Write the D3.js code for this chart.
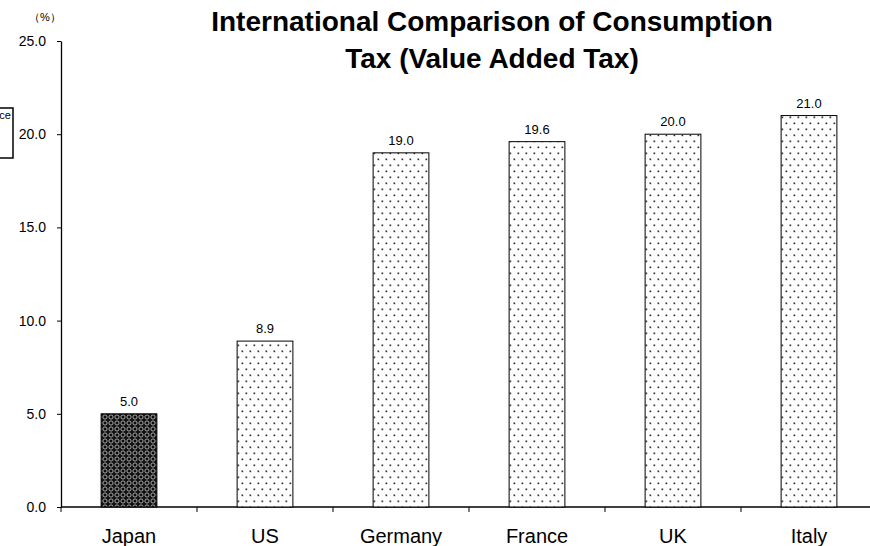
<!DOCTYPE html>
<html>
<meta charset="utf-8">
<head>
  <script src="https://d3js.org/d3.v7.min.js"></script>
</head>
<style>
  body { margin: 0; background: #fff; font-family: 'Liberation Sans', Arial, sans-serif; }
  svg text { fill: #000; }
</style>
<body>
<script>
  var countries = ["Japan", "US", "Germany", "France", "UK", "Italy"];
  var rates = [5.0, 8.9, 19.0, 19.6, 20.0, 21.0];
  var yTicks = [0, 5, 10, 15, 20, 25];
  var titleLines = ["International Comparison of Consumption", "Tax (Value Added Tax)"];

  var w = 870, h = 546;
  var svg = d3.select("body").append("svg")
      .attr("width", w)
      .attr("height", h);

  var defs = svg.append("defs");

  // dotted fill for the other countries
  var dots = defs.append("pattern")
      .attr("id", "dots")
      .attr("patternUnits", "userSpaceOnUse")
      .attr("width", 8).attr("height", 12);
  dots.append("rect").attr("width", 8).attr("height", 12).attr("fill", "#fff");
  dots.append("rect").attr("x", 1.5).attr("y", 2.5).attr("width", 1.7).attr("height", 1.7).attr("fill", "#333");
  dots.append("rect").attr("x", 5.5).attr("y", 8.5).attr("width", 1.7).attr("height", 1.7).attr("fill", "#333");

  // dark crosshatch fill for Japan
  var hatch = defs.append("pattern")
      .attr("id", "hatch")
      .attr("patternUnits", "userSpaceOnUse")
      .attr("width", 6).attr("height", 6);
  hatch.append("rect").attr("width", 6).attr("height", 6).attr("fill", "#111");
  hatch.append("circle").attr("cx", 3).attr("cy", 3).attr("r", 2.1)
      .attr("fill", "none").attr("stroke", "#b8b8b8").attr("stroke-width", 0.9);
  hatch.append("rect").attr("x", 2.4).attr("y", 2.4).attr("width", 1.2).attr("height", 1.2).attr("fill", "#000");

  var x = d3.scaleBand()
      .domain(countries)
      .range([61, 877])
      .paddingInner(0.59)
      .paddingOuter(0.295);

  var y = d3.scaleLinear()
      .domain([0, 25])
      .range([507, 41]);

  // y axis
  var yAxis = svg.append("g")
      .attr("transform", "translate(61,0)")
      .call(d3.axisLeft(y).tickValues(yTicks).tickFormat(d3.format(".1f"))
        .tickSize(4).tickPadding(11).tickSizeOuter(0));
  yAxis.select(".domain").attr("stroke", "#000").attr("stroke-width", 1.3);
  yAxis.selectAll(".tick line").attr("stroke", "#000");
  yAxis.selectAll("text").style("font-family", "'Liberation Sans', Arial, sans-serif")
      .style("font-size", "14px").attr("fill", "#000");

  // x axis line and ticks at band edges
  svg.append("line")
      .attr("x1", 61).attr("x2", w)
      .attr("y1", y(0)).attr("y2", y(0))
      .attr("stroke", "#000").attr("stroke-width", 1.5);
  svg.selectAll("line.xtick")
      .data(countries)
      .enter().append("line")
      .attr("class", "xtick")
      .attr("x1", function(d){ return x(d) - x.step() * x.paddingOuter(); })
      .attr("x2", function(d){ return x(d) - x.step() * x.paddingOuter(); })
      .attr("y1", y(0)).attr("y2", y(0) + 5)
      .attr("stroke", "#000");

  // bars
  svg.selectAll("rect.bar")
      .data(rates)
      .enter().append("rect")
      .attr("class", "bar")
      .attr("x", function(d, i){ return x(countries[i]); })
      .attr("y", function(d){ return y(d); })
      .attr("width", x.bandwidth())
      .attr("height", function(d){ return y(0) - y(d); })
      .attr("fill", function(d, i){ return i == 0 ? "url(#hatch)" : "url(#dots)"; })
      .attr("stroke", "#000")
      .attr("stroke-width", 1);

  // value labels
  svg.selectAll("text.val")
      .data(rates)
      .enter().append("text")
      .attr("class", "val")
      .attr("x", function(d, i){ return x(countries[i]) + x.bandwidth() / 2; })
      .attr("y", function(d){ return y(d) - 8; })
      .attr("text-anchor", "middle")
      .style("font-size", "13px")
      .text(function(d){ return d3.format(".1f")(d); });

  // category labels
  svg.selectAll("text.cat")
      .data(countries)
      .enter().append("text")
      .attr("class", "cat")
      .attr("x", function(d){ return x(d) + x.bandwidth() / 2; })
      .attr("y", 543)
      .attr("text-anchor", "middle")
      .style("font-size", "20px")
      .text(function(d){ return d; });

  // unit
  svg.append("text")
      .attr("x", 45).attr("y", 21)
      .attr("text-anchor", "middle")
      .style("font-size", "11px")
      .text("（%）");

  // title
  svg.selectAll("text.title")
      .data(titleLines)
      .enter().append("text")
      .attr("class", "title")
      .attr("x", 492)
      .attr("y", function(d, i){ return 31 + i * 37; })
      .attr("text-anchor", "middle")
      .style("font-size", "28px")
      .style("font-weight", "bold")
      .text(function(d){ return d; });

  // clipped legend box at the left edge
  svg.append("rect")
      .attr("x", -60).attr("y", 108)
      .attr("width", 73).attr("height", 50)
      .attr("fill", "#fff").attr("stroke", "#000").attr("stroke-width", 1.5);
  svg.append("text")
      .attr("x", 11).attr("y", 119)
      .attr("text-anchor", "end")
      .style("font-size", "11px")
      .text("Reference");
</script>
</body>
</html>
